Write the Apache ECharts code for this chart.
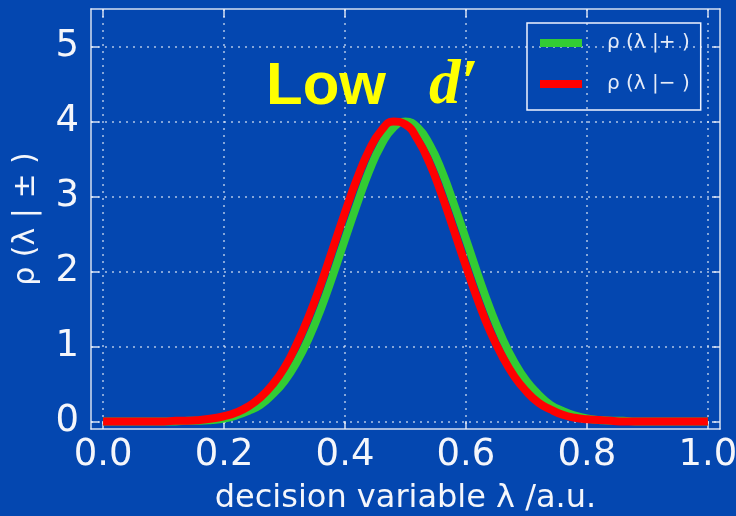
<!DOCTYPE html>
<html>
<head>
<meta charset="utf-8">
<script src="https://cdn.jsdelivr.net/npm/echarts@6/dist/echarts.min.js"></script>
<style>
html,body{margin:0;padding:0;background:#0447b0;}
#chart{width:736px;height:516px;}
</style>
</head>
<body>
<div id="chart"></div>
<script>
// decision variable lambda (x positions of samples)
const lambdaValues = [0.00,0.02,0.04,0.06,0.08,0.10,0.12,0.14,0.16,0.18,0.20,0.22,0.24,0.26,0.28,0.30,0.32,0.34,0.36,0.38,0.40,0.42,0.44,0.46,0.48,0.50,0.52,0.54,0.56,0.58,0.60,0.62,0.64,0.66,0.68,0.70,0.72,0.74,0.76,0.78,0.80,0.82,0.84,0.86,0.88,0.90,0.92,0.94,0.96,0.98,1.00];
// p(lambda|+) green curve
const pPlus = [0,0,0,0,0,0,0,0.01,0.01,0.02,0.04,0.08,0.14,0.22,0.36,0.54,0.79,1.11,1.50,1.95,2.43,2.90,3.34,3.69,3.92,4.00,3.92,3.69,3.34,2.90,2.43,1.95,1.50,1.11,0.79,0.54,0.36,0.22,0.14,0.08,0.04,0.02,0.01,0.01,0,0,0,0,0,0,0];
// p(lambda|-) red curve
const pMinus = [0,0,0,0,0,0,0.01,0.01,0.02,0.04,0.07,0.12,0.20,0.32,0.49,0.72,1.03,1.40,1.83,2.31,2.79,3.24,3.62,3.88,4.00,3.96,3.76,3.44,3.02,2.55,2.07,1.61,1.20,0.87,0.60,0.40,0.25,0.16,0.09,0.05,0.03,0.02,0.01,0,0,0,0,0,0,0,0];
const xTicks = [0.0,0.2,0.4,0.6,0.8,1.0];
const yTicks = [0,1,2,3,4,5];
const seriesNames = ['ρ (λ |+ )','ρ (λ |− )'];

const chart = echarts.init(document.getElementById('chart'));
const axisCol = 'rgba(235,240,250,0.9)';
const gridCol = 'rgba(235,240,250,0.75)';
const font = 'DejaVu Sans';

const mk = vals => lambdaValues.map((x,i)=>[x, vals[i]]);

chart.setOption({
  backgroundColor: '#0447b0',
  animation: false,
  title: [
    {text:'Low', left:261, top:52, textStyle:{color:'#ffff00', fontFamily:'Liberation Sans', fontWeight:'bold', fontSize:60, lineHeight:60}},
    {text:'d′', left:424, top:50, textStyle:{color:'#ffff00', fontFamily:'Liberation Serif', fontStyle:'italic', fontWeight:'bold', fontSize:63, lineHeight:64}}
  ],
  grid: {left:91, right:16, top:9, bottom:87, containLabel:false, outerBoundsMode:'none'},
  legend: {
    orient:'vertical', left:527, top:23,
    padding:[10,11,16,13],
    borderColor:'#f0f4ff', borderWidth:1.5,
    itemWidth:42, itemHeight:8, itemGap:21,
    icon:'rect',
    data: seriesNames,
    textStyle:{color:'#e6ecf8', fontFamily:font, fontSize:20, padding:[0,0,0,20]}
  },
  xAxis: [
    {type:'value', min:-0.02, max:1.02, position:'bottom',
     name:'decision variable λ /a.u.', nameLocation:'middle', nameGap:54,
     nameTextStyle:{color:'#f4f6fb', fontFamily:font, fontSize:32},
     axisLine:{show:true, onZero:false, lineStyle:{color:axisCol, width:1.5}},
     axisTick:{show:true, inside:true, length:8, customValues:xTicks, lineStyle:{color:axisCol, width:1.5}},
     axisLabel:{show:true, customValues:xTicks, margin:8, color:'#f4f6fb', fontFamily:font, fontSize:37, formatter:v=>v.toFixed(1)},
     splitLine:{show:true, lineStyle:{color:gridCol, width:1.5, type:[2,5]}}},
    {type:'value', min:-0.02, max:1.02, position:'top',
     axisLine:{show:true, onZero:false, lineStyle:{color:axisCol, width:1.5}},
     axisTick:{show:true, inside:true, length:8, customValues:xTicks, lineStyle:{color:axisCol, width:1.5}},
     axisLabel:{show:false}, splitLine:{show:false}}
  ],
  yAxis: [
    {type:'value', min:-0.1, max:5.5, position:'left',
     name:'ρ (λ | ± )', nameLocation:'middle', nameGap:50, nameRotate:90,
     nameTextStyle:{color:'#f4f6fb', fontFamily:font, fontSize:30},
     axisLine:{show:true, onZero:false, lineStyle:{color:axisCol, width:1.5}},
     axisTick:{show:true, inside:true, length:8, customValues:yTicks, lineStyle:{color:axisCol, width:1.5}},
     axisLabel:{show:true, customValues:yTicks, margin:12, color:'#f4f6fb', fontFamily:font, fontSize:37},
     splitLine:{show:true, lineStyle:{color:gridCol, width:1.5, type:[2,5]}}},
    {type:'value', min:-0.1, max:5.5, position:'right',
     axisLine:{show:true, onZero:false, lineStyle:{color:axisCol, width:1.5}},
     axisTick:{show:true, inside:true, length:8, customValues:yTicks, lineStyle:{color:axisCol, width:1.5}},
     axisLabel:{show:false}, splitLine:{show:false}}
  ],
  series: [
    {name:seriesNames[0], type:'line', data:mk(pPlus), smooth:true, showSymbol:false, clip:false,
     itemStyle:{color:'#33cc33'}, lineStyle:{color:'#33cc33', width:8, cap:'butt'}},
    {name:seriesNames[1], type:'line', data:mk(pMinus), smooth:true, showSymbol:false, clip:false,
     itemStyle:{color:'#ff0000'}, lineStyle:{color:'#ff0000', width:8, cap:'butt'}}
  ]
});
</script>
</body>
</html>
